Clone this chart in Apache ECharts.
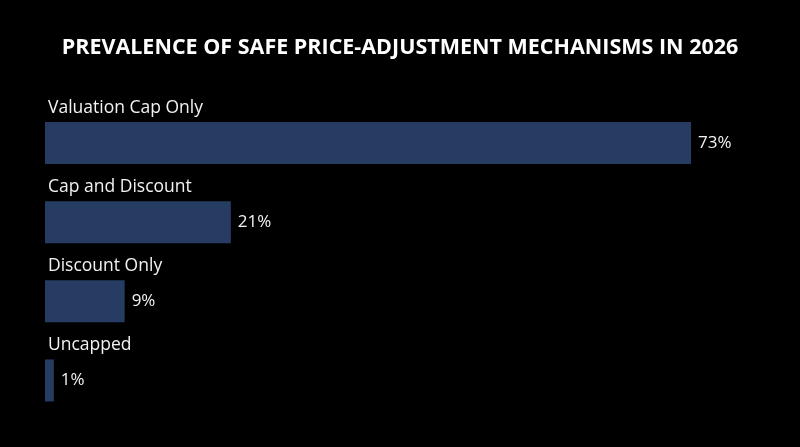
<!DOCTYPE html>
<html>
<head>
<meta charset="utf-8">
<script src="https://cdn.jsdelivr.net/npm/echarts@6/dist/echarts.min.js"></script>
<style>
html,body{margin:0;padding:0;background:#000;}
#c{width:800px;height:447px;}
</style>
</head>
<body>
<div id="c"></div>
<script>
var categories = ['Valuation Cap Only', 'Cap and Discount', 'Discount Only', 'Uncapped'];
var values = [73, 21, 9, 1];
var titleText = 'PREVALENCE OF SAFE PRICE-ADJUSTMENT MECHANISMS IN 2026';

var chart = echarts.init(document.getElementById('c'));
chart.setOption({
  backgroundColor: '#000000',
  animation: false,
  title: {
    text: titleText,
    left: 'center',
    top: 32,
    textStyle: { color: '#ffffff', fontFamily: 'Open Sans', fontWeight: 'bold', fontSize: 21.5 }
  },
  grid: { left: 45, right: 47, top: 103.5, bottom: 27 },
  xAxis: {
    type: 'value', min: 0, max: 80, show: false
  },
  yAxis: {
    type: 'category', data: categories, inverse: true,
    axisLine: { show: false }, axisTick: { show: false }, axisLabel: { show: false }, splitLine: { show: false }
  },
  series: [
    {
      type: 'bar', data: values, barWidth: 42,
      itemStyle: { color: '#263c62' },
      label: {
        show: true, position: 'right', distance: 7,
        formatter: function (p) { return p.value + '%'; },
        color: '#f2f2f2', fontFamily: 'Open Sans', fontSize: 17
      }
    },
    {
      type: 'bar', data: values, barWidth: 42, barGap: '-100%', silent: true,
      itemStyle: { color: 'rgba(0,0,0,0)' },
      label: {
        show: true, position: [3, -23], align: 'left', verticalAlign: 'top',
        formatter: function (p) { return categories[p.dataIndex]; },
        color: '#f2f2f2', fontFamily: 'Open Sans', fontSize: 17.5
      }
    }
  ]
});
</script>
</body>
</html>
